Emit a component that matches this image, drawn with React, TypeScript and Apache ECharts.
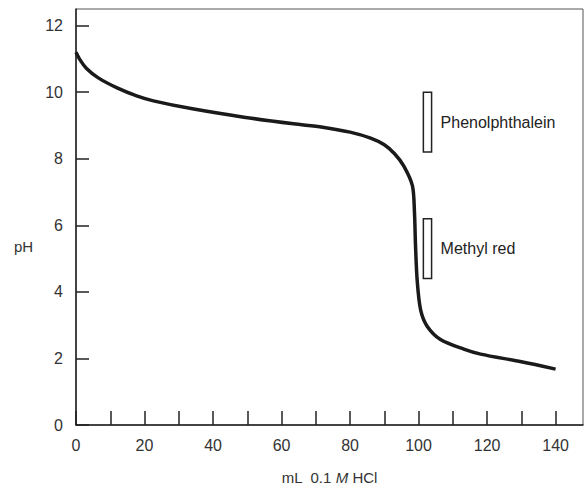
import React, { useEffect, useRef } from "react";
import * as echarts from "echarts";

const volumeML = [0, 1, 3, 6.5, 12, 17.7, 22.6, 34, 49, 63.5, 72, 80, 86, 90, 93, 95.7, 98.2, 98.8, 99.1, 99.6, 100.6, 102.5, 106.4, 113.2, 118.1, 130, 140];
const pHValues = [11.2, 11.0, 10.72, 10.43, 10.13, 9.89, 9.74, 9.5, 9.25, 9.05, 8.95, 8.8, 8.62, 8.42, 8.15, 7.78, 7.19, 6.4, 5.42, 4.34, 3.46, 2.97, 2.57, 2.28, 2.13, 1.9, 1.68];

const indicatorNames = ["Phenolphthalein", "Methyl red"];
const indicatorLow = [8.2, 4.4];
const indicatorHigh = [10.0, 6.2];
const indicatorXStart = [101.4, 101.4];
const indicatorXEnd = [103.8, 103.8];

const xTickLabels = [0, 20, 40, 60, 80, 100, 120, 140];
const yTickLabels = [0, 2, 4, 6, 8, 10, 12];

const FONT = "'Liberation Sans', Arial, Helvetica, sans-serif";
const INK = "#222";

export default function App() {
  const ref = useRef<HTMLDivElement>(null);
  useEffect(() => {
    if (!ref.current) return;
    const chart = echarts.init(ref.current, undefined, { renderer: "svg" });
    const curve = volumeML.map((v, i) => [v, pHValues[i]]);
    const indicators = indicatorNames.map((_, i) => [indicatorXStart[i], indicatorXEnd[i], indicatorLow[i], indicatorHigh[i]]);
    chart.setOption({
      animation: false,
      backgroundColor: "#fff",
      grid: { left: 76, right: 2, top: 9, bottom: 56, show: true, borderColor: "#555", borderWidth: 1 },
      xAxis: {
        type: "value",
        min: 0,
        max: 148,
        interval: 10,
        splitLine: { show: false },
        axisLine: { show: true, lineStyle: { color: INK, width: 1.5 } },
        axisTick: { show: true, inside: true, length: 14, lineStyle: { color: INK, width: 1.5 } },
        axisLabel: {
          margin: 12,
          color: "#333",
          fontFamily: FONT,
          fontSize: 16,
          showMaxLabel: false,
          formatter: (v: number) => (xTickLabels.indexOf(v) >= 0 ? String(v) : ""),
        },
        name: "{a|mL  0.1 }{b|M}{a| HCl}",
        nameLocation: "middle",
        nameGap: 45,
        nameTextStyle: {
          rich: {
            a: { fontFamily: FONT, fontSize: 15, color: "#333" },
            b: { fontFamily: FONT, fontSize: 15, color: "#333", fontStyle: "italic" },
          },
        },
      },
      yAxis: {
        type: "value",
        min: 0,
        max: 12.5,
        interval: 2,
        splitLine: { show: false },
        axisLine: { show: true, lineStyle: { color: INK, width: 1.5 } },
        axisTick: { show: true, inside: true, length: 13, lineStyle: { color: INK, width: 1.5 } },
        axisLabel: {
          margin: 13,
          color: "#333",
          fontFamily: FONT,
          fontSize: 16,
          showMaxLabel: false,
          formatter: (v: number) => (yTickLabels.indexOf(v) >= 0 ? String(v) : ""),
        },
      },
      graphic: [
        {
          type: "text",
          left: 14,
          top: 239,
          style: { text: "pH", font: `15px ${FONT}`, fill: "#333" },
        },
      ],
      series: [
        {
          type: "line",
          data: curve,
          smooth: 0.3,
          showSymbol: false,
          lineStyle: { color: "#1a1a1a", width: 3.5 },
          z: 3,
        },
        {
          type: "custom",
          data: indicators,
          z: 4,
          renderItem: (params: any, api: any) => {
            const p0 = api.coord([api.value(0), api.value(3)]);
            const p1 = api.coord([api.value(1), api.value(2)]);
            return {
              type: "group",
              children: [
                {
                  type: "rect",
                  shape: { x: p0[0], y: p0[1], width: p1[0] - p0[0], height: p1[1] - p0[1] },
                  style: { fill: "#fff", stroke: INK, lineWidth: 1.5 },
                },
                {
                  type: "text",
                  style: {
                    text: indicatorNames[params.dataIndex],
                    x: p1[0] + 9,
                    y: (p0[1] + p1[1]) / 2,
                    verticalAlign: "middle",
                    align: "left",
                    fill: INK,
                    font: `16px ${FONT}`,
                  },
                },
              ],
            };
          },
        },
      ],
    });
    return () => chart.dispose();
  }, []);
  return <div ref={ref} style={{ position: "absolute", left: 0, top: 0, width: 585, height: 490 }} />;
}
